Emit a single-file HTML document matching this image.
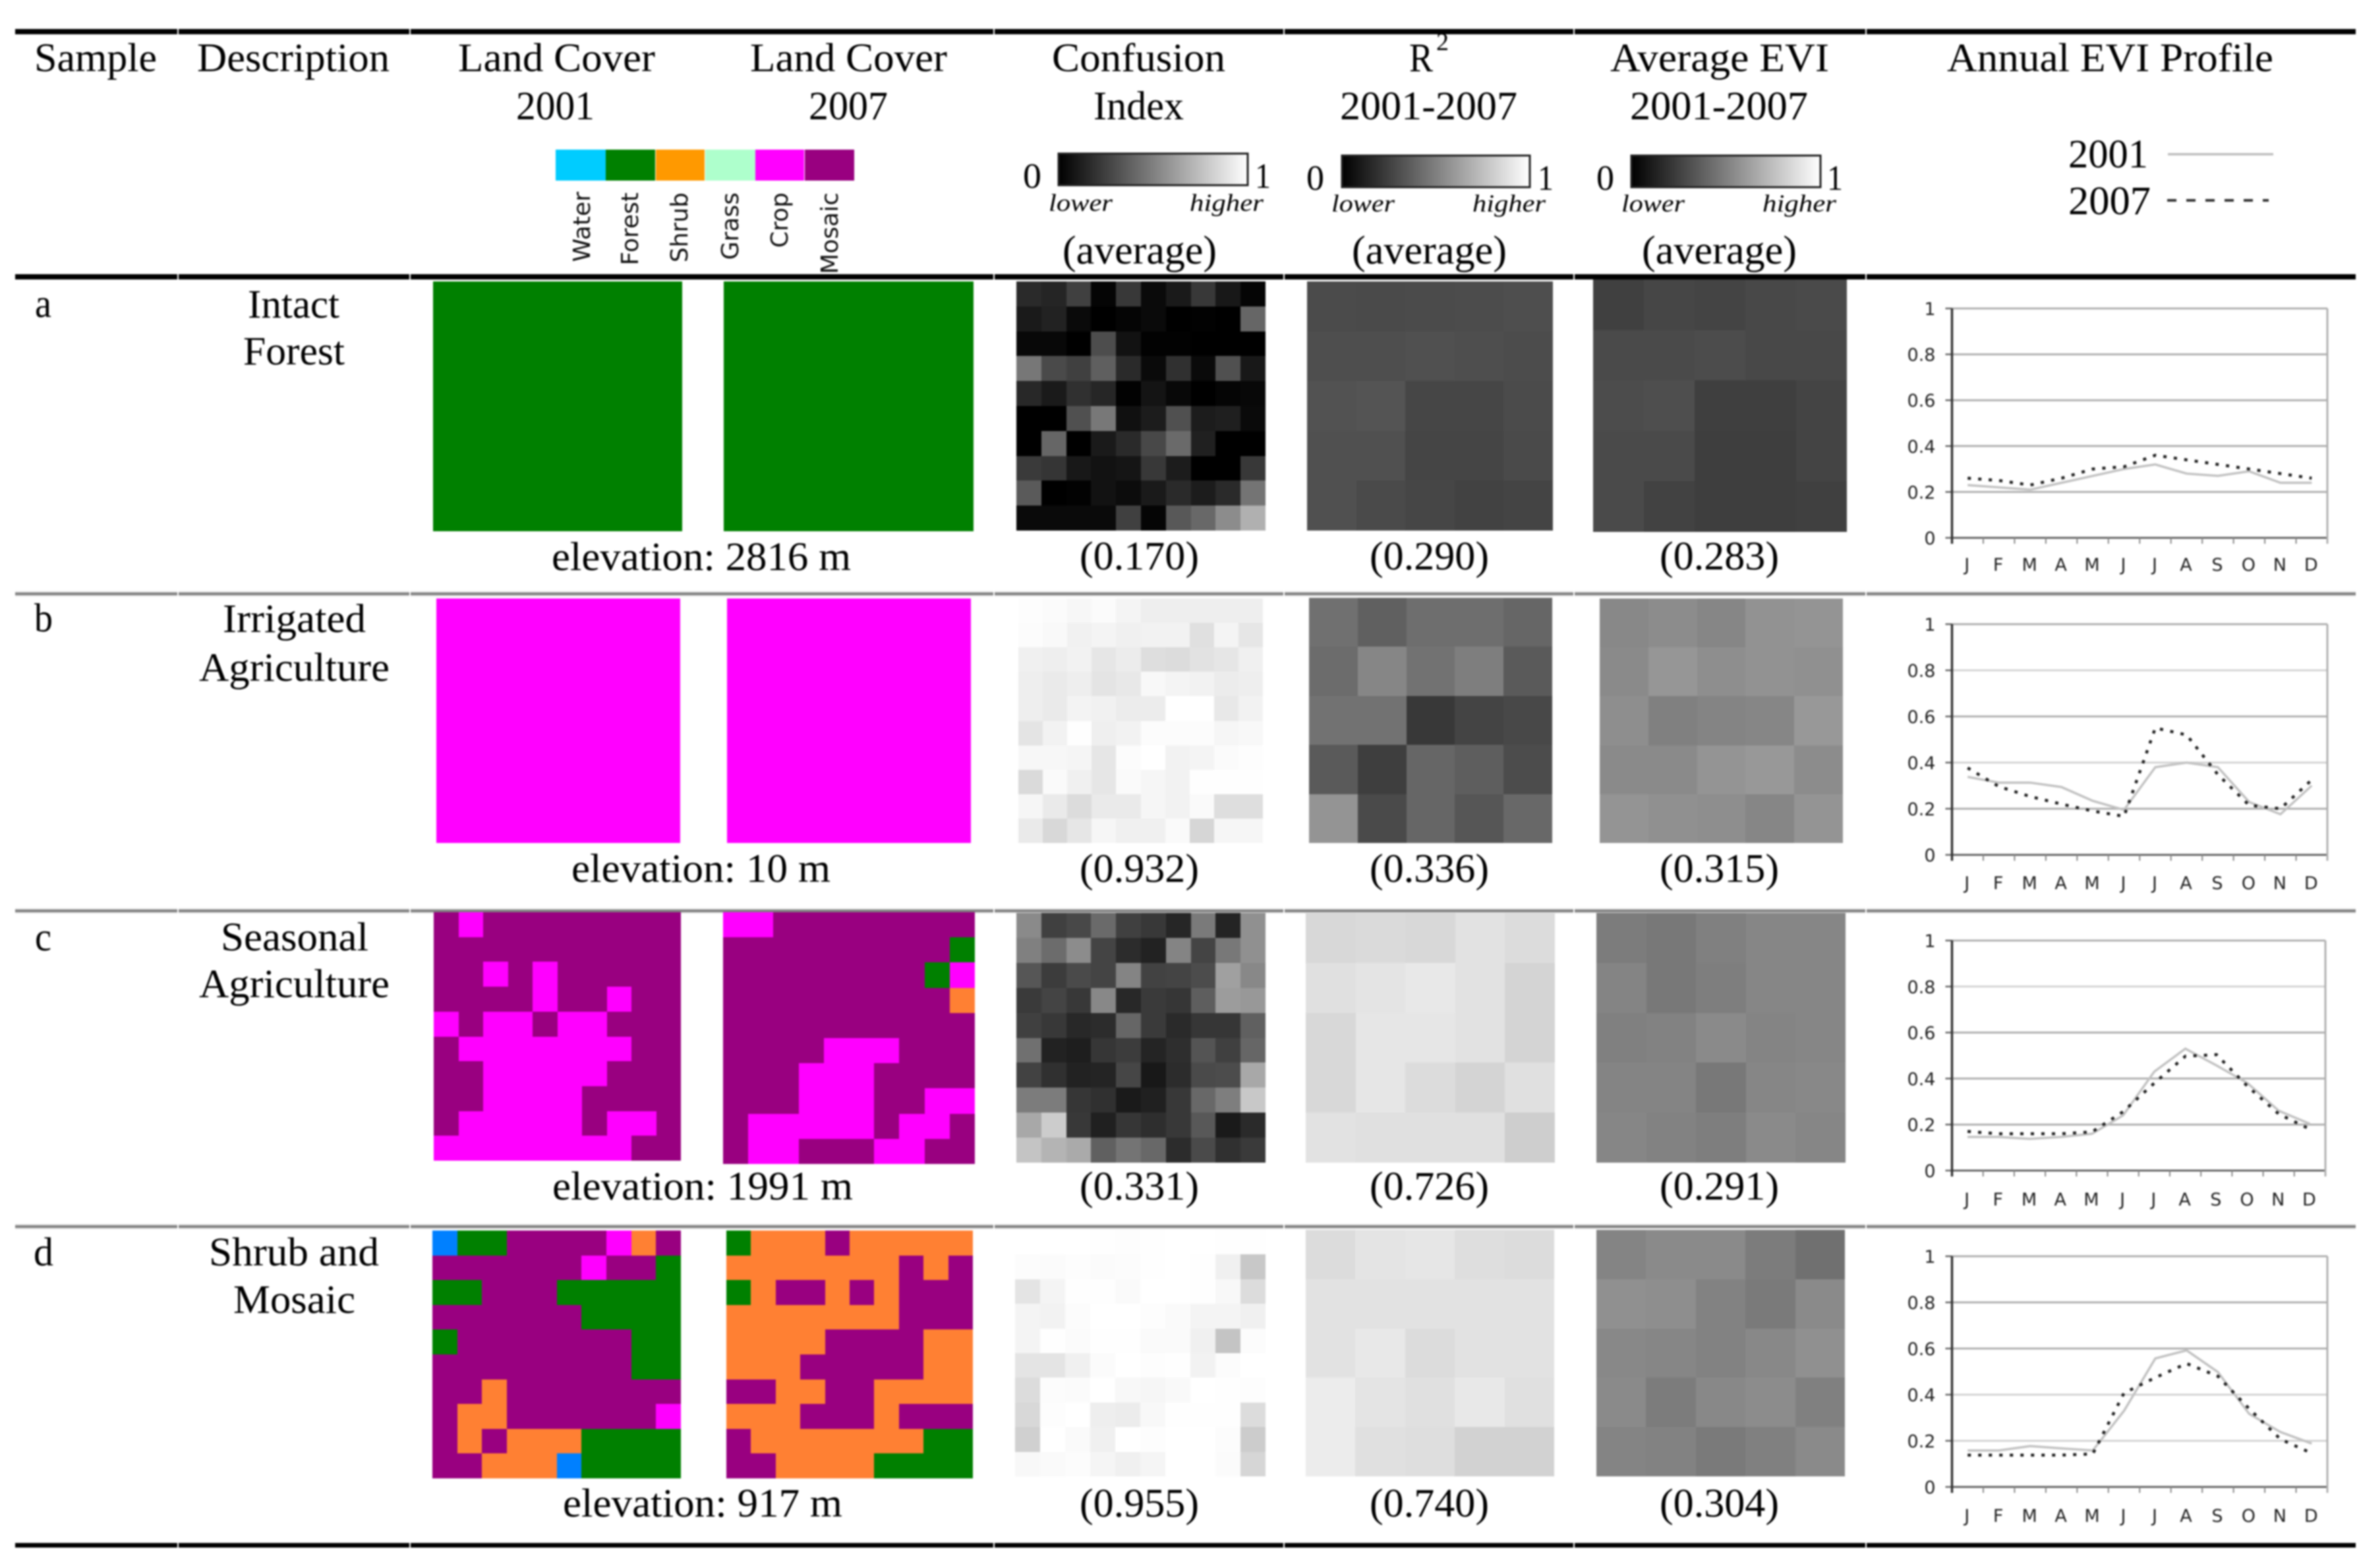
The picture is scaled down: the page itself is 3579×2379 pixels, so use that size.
<!DOCTYPE html>
<html lang="en">
<head>
<meta charset="utf-8">
<title>Land cover sample table</title>
<style>
html,body{margin:0;padding:0;background:#fff;width:3579px;height:2379px;overflow:hidden}
#table{display:block;filter:blur(1.4px)}
text{font-family:"Liberation Serif","Times New Roman",serif;fill:#000}
.t{font-size:61px}
.s{font-size:54px}
.i{font-size:37px;font-style:italic}
.v{font-family:"DejaVu Sans",sans-serif;font-size:36px;fill:#111}
.c{font-family:"DejaVu Sans",sans-serif;font-size:27px;fill:#222}
</style>
</head>
<body>
<svg id="table" xmlns="http://www.w3.org/2000/svg" width="3579" height="2379" viewBox="0 0 3579 2379">
<defs>
<linearGradient id="greyramp" x1="0" x2="1" y1="0" y2="0"><stop offset="0" stop-color="#000"/><stop offset="1" stop-color="#fff"/></linearGradient>
</defs>
<rect x="0" y="0" width="3579" height="2379" fill="#fff"/>
<g id="rules"></g>

<g>
<text class="t" x="52" y="108" textLength="186" lengthAdjust="spacingAndGlyphs">Sample</text>
<text class="t" x="299" y="108" textLength="292" lengthAdjust="spacingAndGlyphs">Description</text>
<text class="t" x="695" y="108" textLength="299" lengthAdjust="spacingAndGlyphs">Land Cover</text>
<text class="t" x="783" y="181" textLength="119" lengthAdjust="spacingAndGlyphs">2001</text>
<text class="t" x="1138" y="108" textLength="299" lengthAdjust="spacingAndGlyphs">Land Cover</text>
<text class="t" x="1227" y="181" textLength="120" lengthAdjust="spacingAndGlyphs">2007</text>
<text class="t" x="1596" y="108" textLength="263" lengthAdjust="spacingAndGlyphs">Confusion</text>
<text class="t" x="1659" y="181" textLength="137" lengthAdjust="spacingAndGlyphs">Index</text>
<text class="t" x="2138" y="108" textLength="36" lengthAdjust="spacingAndGlyphs">R</text>
<text font-size="38" x="2179" y="76" textLength="19" lengthAdjust="spacingAndGlyphs">2</text>
<text class="t" x="2033" y="181" textLength="269" lengthAdjust="spacingAndGlyphs">2001-2007</text>
<text class="t" x="2443" y="108" textLength="332" lengthAdjust="spacingAndGlyphs">Average EVI</text>
<text class="t" x="2473" y="181" textLength="270" lengthAdjust="spacingAndGlyphs">2001-2007</text>
<text class="t" x="2954" y="108" textLength="495" lengthAdjust="spacingAndGlyphs">Annual EVI Profile</text>
</g>

<g>
<rect x="843" y="227" width="76" height="47" fill="#00ccff"/>
<rect x="919" y="227" width="75" height="47" fill="#008000"/>
<rect x="995" y="227" width="74" height="47" fill="#ff9900"/>
<rect x="1070" y="227" width="76" height="47" fill="#aeffcc"/>
<rect x="1146" y="227" width="74" height="47" fill="#ff00ff"/>
<rect x="1221" y="227" width="75" height="47" fill="#990080"/>
<text class="v" text-anchor="end" transform="translate(895 291) rotate(-90)">Water</text>
<text class="v" text-anchor="end" transform="translate(968 292) rotate(-90)">Forest</text>
<text class="v" text-anchor="end" transform="translate(1043 292) rotate(-90)">Shrub</text>
<text class="v" text-anchor="end" transform="translate(1120 292) rotate(-90)">Grass</text>
<text class="v" text-anchor="end" transform="translate(1195 292) rotate(-90)">Crop</text>
<text class="v" text-anchor="end" transform="translate(1271 292) rotate(-90)">Mosaic</text>
</g>

<g>
<rect x="1606" y="233" width="287" height="48" fill="url(#greyramp)" stroke="#222" stroke-width="3"/>
<text class="s" x="1552" y="285" textLength="28" lengthAdjust="spacingAndGlyphs">0</text>
<text class="s" x="1904" y="285" textLength="24" lengthAdjust="spacingAndGlyphs">1</text>
<text class="i" x="1591" y="320" textLength="97" lengthAdjust="spacingAndGlyphs">lower</text>
<text class="i" x="1805" y="320" textLength="112" lengthAdjust="spacingAndGlyphs">higher</text>
<text class="t" x="1612" y="400" textLength="234" lengthAdjust="spacingAndGlyphs">(average)</text>
</g>
<g>
<rect x="2036" y="236" width="285" height="48" fill="url(#greyramp)" stroke="#222" stroke-width="3"/>
<text class="s" x="1982" y="288" textLength="27" lengthAdjust="spacingAndGlyphs">0</text>
<text class="s" x="2333" y="288" textLength="24" lengthAdjust="spacingAndGlyphs">1</text>
<text class="i" x="2020" y="321" textLength="96" lengthAdjust="spacingAndGlyphs">lower</text>
<text class="i" x="2234" y="321" textLength="111" lengthAdjust="spacingAndGlyphs">higher</text>
<text class="t" x="2051" y="400" textLength="235" lengthAdjust="spacingAndGlyphs">(average)</text>
</g>
<g>
<rect x="2475" y="236" width="287" height="48" fill="url(#greyramp)" stroke="#222" stroke-width="3"/>
<text class="s" x="2422" y="288" textLength="27" lengthAdjust="spacingAndGlyphs">0</text>
<text class="s" x="2772" y="288" textLength="24" lengthAdjust="spacingAndGlyphs">1</text>
<text class="i" x="2460" y="321" textLength="96" lengthAdjust="spacingAndGlyphs">lower</text>
<text class="i" x="2674" y="321" textLength="112" lengthAdjust="spacingAndGlyphs">higher</text>
<text class="t" x="2491" y="400" textLength="235" lengthAdjust="spacingAndGlyphs">(average)</text>
</g>

<g>
<text class="t" x="3138" y="254" textLength="121" lengthAdjust="spacingAndGlyphs">2001</text>
<line x1="3289" x2="3449" y1="234" y2="234" stroke="#bdbdbd" stroke-width="3.5"/>
<text class="t" x="3138" y="325" textLength="125" lengthAdjust="spacingAndGlyphs">2007</text>
<line x1="3288" x2="3442" y1="304" y2="304" stroke="#333" stroke-width="4" stroke-dasharray="14 15"/>
</g>

<g>
<text class="t" x="53" y="481" textLength="25" lengthAdjust="spacingAndGlyphs">a</text>
<text class="t" x="376" y="482" textLength="139" lengthAdjust="spacingAndGlyphs">Intact</text>
<text class="t" x="369" y="553" textLength="154" lengthAdjust="spacingAndGlyphs">Forest</text>
<text class="t" x="837" y="865" textLength="454" lengthAdjust="spacingAndGlyphs">elevation: 2816 m</text>
<text class="t" x="1638" y="864" textLength="181" lengthAdjust="spacingAndGlyphs">(0.170)</text>
<text class="t" x="2078" y="864" textLength="181" lengthAdjust="spacingAndGlyphs">(0.290)</text>
<text class="t" x="2518" y="864" textLength="181" lengthAdjust="spacingAndGlyphs">(0.283)</text>
</g>
<g>
<text class="t" x="52" y="958" textLength="28" lengthAdjust="spacingAndGlyphs">b</text>
<text class="t" x="338" y="959" textLength="217" lengthAdjust="spacingAndGlyphs">Irrigated</text>
<text class="t" x="302" y="1033" textLength="289" lengthAdjust="spacingAndGlyphs">Agriculture</text>
<text class="t" x="867" y="1338" textLength="393" lengthAdjust="spacingAndGlyphs">elevation: 10 m</text>
<text class="t" x="1638" y="1338" textLength="181" lengthAdjust="spacingAndGlyphs">(0.932)</text>
<text class="t" x="2078" y="1338" textLength="181" lengthAdjust="spacingAndGlyphs">(0.336)</text>
<text class="t" x="2518" y="1338" textLength="181" lengthAdjust="spacingAndGlyphs">(0.315)</text>
</g>
<g>
<text class="t" x="53" y="1442" textLength="25" lengthAdjust="spacingAndGlyphs">c</text>
<text class="t" x="335" y="1442" textLength="224" lengthAdjust="spacingAndGlyphs">Seasonal</text>
<text class="t" x="302" y="1513" textLength="289" lengthAdjust="spacingAndGlyphs">Agriculture</text>
<text class="t" x="838" y="1820" textLength="456" lengthAdjust="spacingAndGlyphs">elevation: 1991 m</text>
<text class="t" x="1638" y="1820" textLength="181" lengthAdjust="spacingAndGlyphs">(0.331)</text>
<text class="t" x="2078" y="1820" textLength="181" lengthAdjust="spacingAndGlyphs">(0.726)</text>
<text class="t" x="2518" y="1820" textLength="181" lengthAdjust="spacingAndGlyphs">(0.291)</text>
</g>
<g>
<text class="t" x="51" y="1920" textLength="30" lengthAdjust="spacingAndGlyphs">d</text>
<text class="t" x="317" y="1920" textLength="258" lengthAdjust="spacingAndGlyphs">Shrub and</text>
<text class="t" x="354" y="1992" textLength="185" lengthAdjust="spacingAndGlyphs">Mosaic</text>
<text class="t" x="854" y="2301" textLength="424" lengthAdjust="spacingAndGlyphs">elevation: 917 m</text>
<text class="t" x="1638" y="2301" textLength="181" lengthAdjust="spacingAndGlyphs">(0.955)</text>
<text class="t" x="2078" y="2301" textLength="181" lengthAdjust="spacingAndGlyphs">(0.740)</text>
<text class="t" x="2518" y="2301" textLength="181" lengthAdjust="spacingAndGlyphs">(0.304)</text>
</g>

<g id="maps"></g>
<g id="heatmaps"></g>
<g id="charts"></g>
</svg>

<script>
/* ---------- chart data ---------- */
const months = ['J','F','M','A','M','J','J','A','S','O','N','D'];
const yTicks = [0,0.2,0.4,0.6,0.8,1];
const yTickLabels = ['0','0.2','0.4','0.6','0.8','1'];

const eviA2001 = [.23,.22,.21,.24,.27,.30,.32,.28,.27,.29,.24,.24];
const eviA2007 = [.26,.25,.23,.26,.30,.31,.36,.34,.32,.30,.28,.26];
const eviB2001 = [.338,.313,.313,.294,.234,.195,.38,.40,.38,.229,.176,.30];
const eviB2007 = [.377,.296,.253,.22,.19,.167,.55,.52,.348,.215,.20,.325];
const eviC2001 = [.146,.146,.138,.146,.16,.24,.43,.53,.457,.38,.26,.203];
const eviC2007 = [.17,.16,.16,.16,.168,.256,.38,.497,.504,.366,.246,.18];
const eviD2001 = [.158,.158,.177,.167,.158,.33,.557,.592,.498,.317,.238,.188];
const eviD2007 = [.138,.138,.138,.138,.143,.407,.474,.535,.48,.339,.207,.146];

/* ---------- land cover classes (one letter per pixel) ---------- */
const classNames = {M:'mosaic',C:'crop',F:'forest',O:'shrub',W:'water'};
const lcA2001 = ['FFFFFFFFFF','FFFFFFFFFF','FFFFFFFFFF','FFFFFFFFFF','FFFFFFFFFF','FFFFFFFFFF','FFFFFFFFFF','FFFFFFFFFF','FFFFFFFFFF','FFFFFFFFFF'];
const lcA2007 = ['FFFFFFFFFF','FFFFFFFFFF','FFFFFFFFFF','FFFFFFFFFF','FFFFFFFFFF','FFFFFFFFFF','FFFFFFFFFF','FFFFFFFFFF','FFFFFFFFFF','FFFFFFFFFF'];
const lcB2001 = ['CCCCCCCCCC','CCCCCCCCCC','CCCCCCCCCC','CCCCCCCCCC','CCCCCCCCCC','CCCCCCCCCC','CCCCCCCCCC','CCCCCCCCCC','CCCCCCCCCC','CCCCCCCCCC'];
const lcB2007 = ['CCCCCCCCCC','CCCCCCCCCC','CCCCCCCCCC','CCCCCCCCCC','CCCCCCCCCC','CCCCCCCCCC','CCCCCCCCCC','CCCCCCCCCC','CCCCCCCCCC','CCCCCCCCCC'];
const lcC2001 = ['MCMMMMMMMM','MMMMMMMMMM','MMCMCMMMMM','MMMMCMMCMM','CMCCMCCMMM','MCCCCCCCMM','MMCCCCCMMM','MMCCCCMMMM','MCCCCCMCCM','CCCCCCCCMM'];
const lcC2007 = ['CCMMMMMMMM','MMMMMMMMMF','MMMMMMMMFC','MMMMMMMMMO','MMMMMMMMMM','MMMMCCCMMM','MMMCCCMMMM','MMMCCCMMCC','MCCCCCMCCM','MCCMMMCCMM'];
const lcD2001 = ['WFFMMMMCOM','MMMMMMCMMF','FFMMMFFFFF','MMMMMMFFFF','FMMMMMMMFF','MMMMMMMMFF','MMOMMMMMMM','MOOMMMMMMC','MOMOOOFFFF','MMOOOWFFFF'];
const lcD2007 = ['FOOOMOOOOO','OOOOOOOMOM','FOMMOMOMMM','OOOOOOOMMM','OOOOMMMMOO','OOOMMMMMOO','MMOOMMOOOO','OOOMMMOMMM','MOOOOOOOFF','MMOOOOFFFF'];

/* ---------- heatmap grey levels (0-255) ---------- */
const ciA = [[42,37,64,5,56,10,26,56,24,5],[26,34,10,0,5,10,0,2,0,102],[8,8,0,77,18,2,2,0,0,0],[119,74,64,95,42,10,48,10,80,24],[40,26,48,38,2,20,8,0,5,8],[0,0,80,120,16,28,80,28,31,10],[0,102,0,26,42,72,106,32,0,0],[58,53,24,18,21,56,28,0,0,56],[90,0,2,18,12,26,42,28,42,116],[10,10,10,10,64,5,88,104,140,176]];
const r2A = [[75,74,75,76,78],[78,78,80,78,76],[82,84,70,70,75],[80,80,69,69,74],[80,74,70,66,68]];
const evA = [[64,70,68,72,74],[74,74,76,72,72],[76,78,63,63,68],[74,74,62,62,68],[74,66,62,62,64]];
const ciB = [[253,251,247,251,244,238,238,238,238,238],[252,249,241,244,240,242,242,224,244,230],[240,238,242,230,236,222,220,226,230,240],[238,234,238,228,232,248,244,242,236,238],[238,234,243,241,236,236,255,255,232,242],[228,242,254,239,242,252,252,252,246,248],[247,247,245,230,252,255,242,244,251,253],[218,250,240,230,250,246,242,254,254,254],[246,234,220,234,234,246,242,250,222,222],[234,216,230,246,240,240,250,214,246,246]];
const r2B = [[112,96,110,110,102],[108,134,114,126,90],[114,114,56,68,72],[90,62,102,94,76],[148,74,102,86,104]];
const evB = [[136,140,134,146,148],[138,150,142,146,144],[142,128,132,134,152],[138,138,148,152,140],[148,144,142,134,148]];
const ciC = [[138,64,72,106,64,56,38,122,36,144],[128,108,140,68,44,34,132,68,120,144],[86,60,74,68,132,66,68,76,160,136],[58,68,56,136,40,58,54,94,156,152],[64,56,40,44,102,58,42,54,54,96],[112,34,30,54,60,36,46,84,64,102],[66,48,34,36,70,24,44,74,76,168],[124,124,54,48,26,32,56,104,126,200],[168,204,56,32,54,46,56,88,26,42],[196,180,170,96,116,104,44,74,48,58]];
const r2C = [[216,218,216,226,220],[224,228,232,226,212],[216,230,230,226,212],[216,230,220,212,224],[226,224,224,224,206]];
const evC = [[124,120,128,134,134],[132,120,126,134,134],[128,130,138,132,134],[132,132,120,134,136],[134,130,126,138,134]];
const ciD = [[255,255,255,254,253,254,255,255,254,254],[252,251,253,251,252,254,255,254,240,200],[228,244,254,254,250,255,255,254,248,220],[244,242,252,255,255,253,250,244,244,240],[244,254,251,254,254,250,250,240,196,252],[228,228,240,251,255,253,254,242,252,255],[220,252,251,255,248,246,249,255,254,253],[216,253,255,238,236,248,254,254,254,220],[208,255,250,240,255,253,255,255,252,204],[248,250,252,245,240,245,255,255,251,214]];
const r2D = [[220,228,230,222,220],[226,226,226,226,226],[226,232,220,226,226],[236,228,224,232,224],[236,224,222,210,210]];
const evD = [[132,138,138,124,112],[144,142,130,122,138],[136,134,130,136,144],[138,124,136,140,128],[132,130,122,128,138]];

/* ---------- drawing ---------- */
const NS = 'http://www.w3.org/2000/svg';
const classFill = {M:'#990080',C:'#ff00ff',F:'#008000',O:'#ff8033',W:'#0080ff'};

function mk(tag, parent, attrs){
  const el = document.createElementNS(NS, tag);
  for (const k in attrs) el.setAttribute(k, attrs[k]);
  parent.appendChild(el);
  return el;
}

/* table rules, split at the column gaps */
const ruleBreaks = [23,269,621,1507,1947,2387,2830,3574];
function drawRule(y, h, fill, name){
  const g = mk('g', document.getElementById('rules'), {});
  
  
  for (let i = 0; i < ruleBreaks.length - 1; i++){
    const seg = mk('rect', g, {x: ruleBreaks[i] + (i ? 2 : 0), y: y, width: ruleBreaks[i+1] - ruleBreaks[i] - (i ? 2 : 0), height: h, fill: fill});
    
    
  }
}
drawRule(897, 8, '#e4e4e4', 'row-a-rule-halo');
drawRule(1378, 8, '#e4e4e4', 'row-b-rule-halo');
drawRule(1857, 8, '#e4e4e4', 'row-c-rule-halo');
drawRule(44, 8, '#000000', 'top-rule');
drawRule(416, 8, '#000000', 'header-rule');
drawRule(899, 4, '#808080', 'row-a-rule');
drawRule(1380, 4, '#808080', 'row-b-rule');
drawRule(1859, 4, '#808080', 'row-c-rule');
drawRule(2341, 7, '#000000', 'bottom-rule');

/* land cover maps */
function drawMap(rows, x0, x1, y0, y1, name){
  const g = mk('g', document.getElementById('maps'), {'shape-rendering':'crispEdges'});
  
  
  const nr = rows.length, nc = rows[0].length;
  const xAt = i => Math.round(x0 + (x1 - x0) * i / nc);
  const yAt = j => Math.round(y0 + (y1 - y0) * j / nr);
  rows.forEach((row, j) => {
    row.split('').forEach((code, i) => {
      const c = mk('rect', g, {x: xAt(i), y: yAt(j), width: xAt(i+1) - xAt(i), height: yAt(j+1) - yAt(j), fill: classFill[code]});
      
      
    });
  });
}
drawMap(lcA2001, 657, 1035, 427, 806, 'land-cover-map-a-2001');
drawMap(lcA2007, 1098, 1477, 427, 806, 'land-cover-map-a-2007');
drawMap(lcB2001, 662, 1032, 908, 1279, 'land-cover-map-b-2001');
drawMap(lcB2007, 1103, 1473, 908, 1279, 'land-cover-map-b-2007');
drawMap(lcC2001, 658, 1033, 1384, 1761, 'land-cover-map-c-2001');
drawMap(lcC2007, 1097, 1479, 1384, 1766, 'land-cover-map-c-2007');
drawMap(lcD2001, 656, 1033, 1867, 2243, 'land-cover-map-d-2001');
drawMap(lcD2007, 1102, 1476, 1867, 2243, 'land-cover-map-d-2007');

/* greyscale heatmaps */
function drawHeat(grid, x0, x1, y0, y1, name){
  const g = mk('g', document.getElementById('heatmaps'), {'shape-rendering':'crispEdges'});
  
  
  const nr = grid.length, nc = grid[0].length;
  const xAt = i => Math.round(x0 + (x1 - x0) * i / nc);
  const yAt = j => Math.round(y0 + (y1 - y0) * j / nr);
  grid.forEach((row, j) => {
    row.forEach((v, i) => {
      const c = mk('rect', g, {x: xAt(i), y: yAt(j), width: xAt(i+1) - xAt(i), height: yAt(j+1) - yAt(j), fill: 'rgb(' + v + ',' + v + ',' + v + ')'});
      
      
    });
  });
}
drawHeat(ciA, 1542, 1920, 427, 805, 'confusion-heatmap-a');
drawHeat(r2A, 1983, 2356, 427, 805, 'r-squared-heatmap-a');
drawHeat(evA, 2417, 2802, 424, 807, 'average-evi-heatmap-a');
drawHeat(ciB, 1545, 1916, 908, 1279, 'confusion-heatmap-b');
drawHeat(r2B, 1986, 2355, 907, 1279, 'r-squared-heatmap-b');
drawHeat(evB, 2427, 2796, 908, 1279, 'average-evi-heatmap-b');
drawHeat(ciC, 1542, 1920, 1385, 1764, 'confusion-heatmap-c');
drawHeat(r2C, 1981, 2359, 1385, 1764, 'r-squared-heatmap-c');
drawHeat(evC, 2422, 2800, 1385, 1764, 'average-evi-heatmap-c');
drawHeat(ciD, 1540, 1920, 1866, 2240, 'confusion-heatmap-d');
drawHeat(r2D, 1981, 2358, 1866, 2240, 'r-squared-heatmap-d');
drawHeat(evD, 2422, 2799, 1866, 2240, 'average-evi-heatmap-d');

/* annual EVI line charts; faintTicks lists the gridlines that look paler in that chart */
function drawChart(series2001, series2007, faintTicks, left, right, top, bottom, monthBase, id){
  const g = mk('g', document.getElementById('charts'), {});
  
  
  const band = (right - left) / months.length;
  const xScale = i => left + band * (i + 0.5);
  const yScale = v => bottom - (bottom - top) * v;

  yTicks.forEach((v, i) => {
    const y = yScale(v);
    const stroke = v === 0 ? '#666' : (faintTicks.includes(v) ? '#d4d4d4' : '#b0b0b0');
    const grid = mk('line', g, {x1: left, x2: right, y1: y, y2: y, stroke: stroke, 'stroke-width': 3});
    
    
    const tick = mk('line', g, {x1: left - 10, x2: left, y1: y, y2: y, stroke: '#666', 'stroke-width': 2.5});
    
    
    const lab = mk('text', g, {x: left - 25, y: y + 10, 'text-anchor': 'end', class: 'c'});
    
    
    lab.textContent = yTickLabels[i];
  });

  const rightEdge = mk('line', g, {x1: right, x2: right, y1: top, y2: bottom + 9, stroke: '#b0b0b0', 'stroke-width': 3});
  
  

  for (let i = 0; i < months.length; i++){
    const tx = left + band * i;
    const tick = mk('line', g, {x1: tx, x2: tx, y1: bottom, y2: bottom + 9, stroke: '#888', 'stroke-width': 2});
    
    
    const lab = mk('text', g, {x: xScale(i) - 1, y: monthBase, 'text-anchor': 'middle', class: 'c'});
    
    
    lab.textContent = months[i];
  }

  const yAxis = mk('line', g, {x1: left, x2: left, y1: top, y2: bottom + 9, stroke: '#333', 'stroke-width': 3.5});
  
  

  const solid = mk('polyline', g, {fill: 'none', stroke: '#c2c2c2', 'stroke-width': 3.5,
    points: series2001.map((v, i) => xScale(i) + ',' + yScale(v)).join(' ')});
  
  

  const dotted = mk('polyline', g, {fill: 'none', stroke: '#222', 'stroke-width': 4.5, 'stroke-dasharray': '5 11',
    points: series2007.map((v, i) => xScale(i) + ',' + yScale(v)).join(' ')});
  
  
}
drawChart(eviA2001, eviA2007, [], 2961.5, 3531, 468, 816, 866, 'a');
drawChart(eviB2001, eviB2007, [0.8, 0.4], 2961.5, 3531, 947, 1297, 1349, 'b');
drawChart(eviC2001, eviC2007, [0.8], 2961.5, 3528, 1427, 1776, 1829, 'c');
drawChart(eviD2001, eviD2007, [0.4, 0.2], 2961.5, 3531, 1906, 2256, 2309, 'd');
</script>
</body>
</html>
